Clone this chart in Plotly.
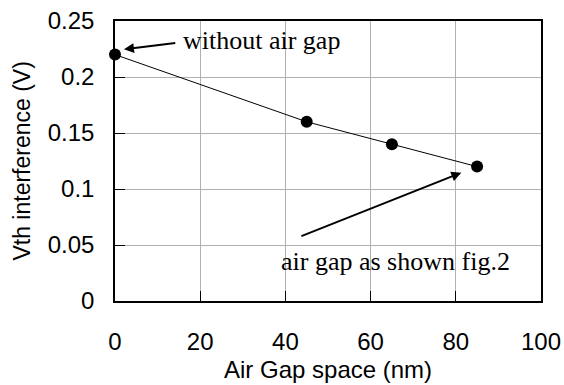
import plotly.graph_objects as go

gap_nm = [0, 45, 65, 85]
vth_interference = [0.22, 0.16, 0.14, 0.12]
x_ticks = [0, 20, 40, 60, 80, 100]
y_ticks = [0, 0.05, 0.1, 0.15, 0.2, 0.25]
y_tick_text = ["0", "0.05", "0.1", "0.15", "0.2", "0.25"]
x_title = "Air Gap space (nm)"
y_title = "Vth interference (V)"

fig = go.Figure()
fig.add_trace(go.Scatter(
    x=gap_nm, y=vth_interference, mode="lines+markers",
    line=dict(color="black", width=1),
    marker=dict(color="black", size=12),
    showlegend=False, cliponaxis=False,
))

sans = "Liberation Sans, Arial, sans-serif"
serif = "Liberation Serif, Times New Roman, serif"

fig.update_layout(
    width=564, height=385,
    margin=dict(l=115, r=23, t=21, b=84, autoexpand=False),
    paper_bgcolor="white", plot_bgcolor="white",
    font=dict(family=sans, size=24, color="black"),
    xaxis=dict(
        range=[0, 100], tickvals=x_ticks, ticks="inside", ticklen=10,
        tickcolor="black", showline=True, linecolor="black", linewidth=1.5,
        mirror=True, showgrid=True, gridcolor="#b0b0b0", gridwidth=1,
        zeroline=False, ticklabelstandoff=18, automargin=False,
    ),
    yaxis=dict(
        range=[0, 0.25], tickvals=y_ticks, ticktext=y_tick_text,
        ticks="inside", ticklen=10, tickcolor="black", showline=True,
        linecolor="black", linewidth=1.5, mirror=True, showgrid=True,
        gridcolor="#b0b0b0", gridwidth=1, zeroline=False,
        ticklabelstandoff=14, automargin=False,
    ),
)

fig.add_annotation(x=0.5, y=-0.245, xref="paper", yref="paper", text=x_title,
                   showarrow=False, xanchor="center", yanchor="middle",
                   font=dict(family=sans, size=24, color="black"))
fig.add_annotation(x=-0.2183, y=0.498, xref="paper", yref="paper", text=y_title,
                   showarrow=False, xanchor="center", yanchor="middle",
                   textangle=-90, font=dict(family=sans, size=23, color="black"))

fig.add_annotation(x=2.1, y=0.2247, ax=14.5, ay=0.2306, xref="x", yref="y",
                   axref="x", ayref="y", text="", showarrow=True,
                   arrowhead=2, arrowsize=1, arrowwidth=2, arrowcolor="black")
fig.add_annotation(x=15.5, y=0.233, xref="x", yref="y", text="without air gap",
                   showarrow=False, xanchor="left", yanchor="middle",
                   font=dict(family=serif, size=26, color="black"))
fig.add_annotation(x=81.3, y=0.1146, ax=43.4, ay=0.0574, xref="x", yref="y",
                   axref="x", ayref="y", text="", showarrow=True,
                   arrowhead=2, arrowsize=1, arrowwidth=2, arrowcolor="black")
fig.add_annotation(x=65.9, y=0.0357, xref="x", yref="y",
                   text="air gap as shown fig.2", showarrow=False,
                   xanchor="center", yanchor="middle",
                   font=dict(family=serif, size=26, color="black"))

fig.write_html("out.html")
